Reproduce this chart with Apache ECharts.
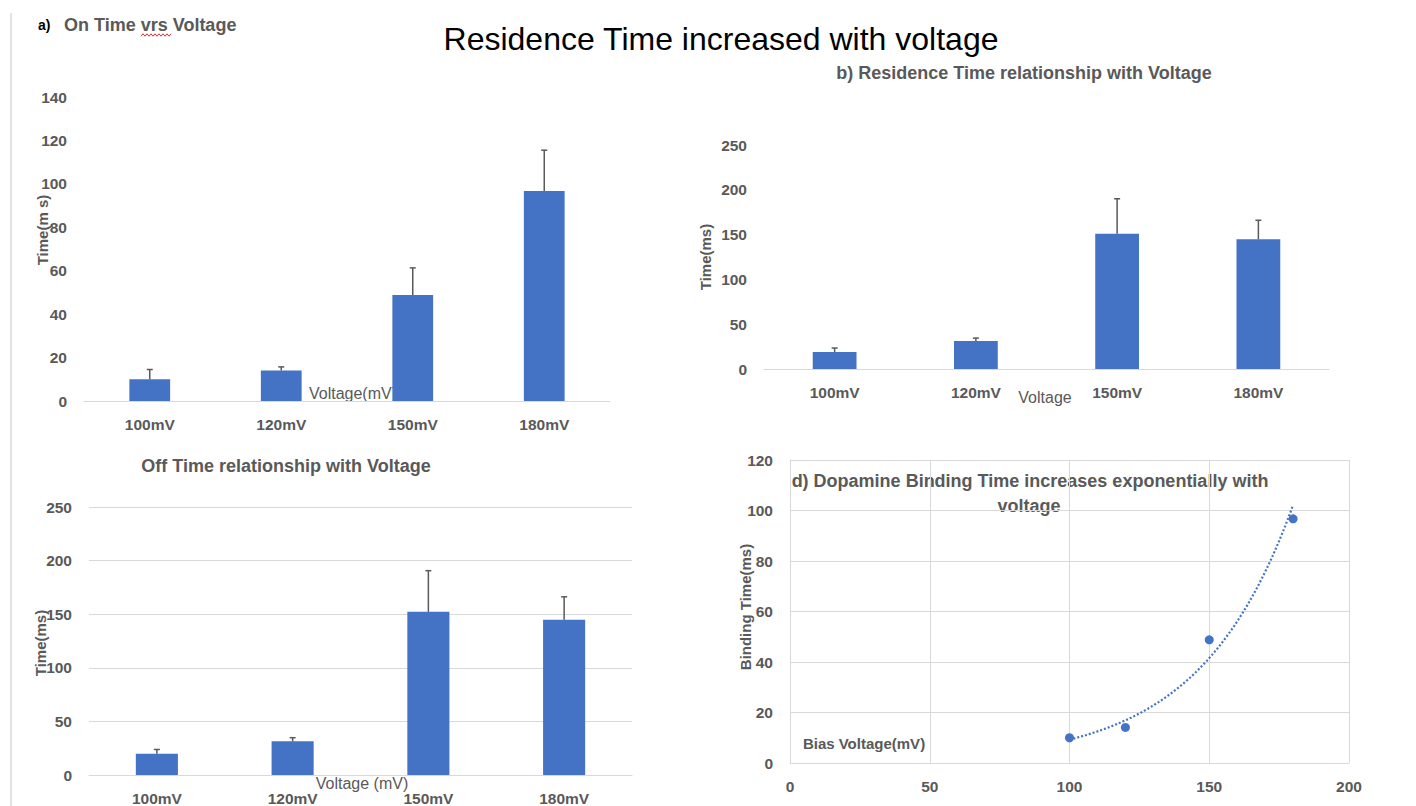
<!DOCTYPE html>
<html>
<head>
<meta charset="utf-8">
<script src="https://cdn.jsdelivr.net/npm/echarts@6/dist/echarts.min.js"></script>
<style>
html,body{margin:0;padding:0;background:#fff;}
#chart{width:1416px;height:806px;}
</style>
</head>
<body>
<div id="chart"></div>
<script>
// ---- data ----
const categories = ['100mV', '120mV', '150mV', '180mV'];
const onTimeMean = [10, 14.1, 48.8, 96.7];
const onTimeErr = [4.5, 1.6, 12.5, 18.8];
const residenceMean = [19, 31.2, 151, 144.8];
const residenceErr = [4.4, 3.3, 39, 21.2];
const offTimeMean = [19.8, 31.4, 152.2, 144.8];
const offTimeErr = [4, 3.4, 38.4, 21.4];
const biasVoltage = [100, 120, 150, 180];
const bindingTime = [10, 14.1, 48.8, 96.7];

// ---- style constants ----
const FONT = "'Liberation Sans', Arial, sans-serif";
const GRAY = '#595959';
const LINE = '#d9d9d9';
const BLUE = '#4472c4';

// exponential trendline (least squares on ln y), sampled from the data
function expFit(xs, ys) {
  const n = xs.length;
  const lx = xs, ly = ys.map(v => Math.log(v));
  const mx = lx.reduce((a, b) => a + b, 0) / n;
  const my = ly.reduce((a, b) => a + b, 0) / n;
  let sxx = 0, sxy = 0;
  for (let i = 0; i < n; i++) { sxx += (lx[i] - mx) ** 2; sxy += (lx[i] - mx) * (ly[i] - my); }
  const b = sxy / sxx, a = Math.exp(my - b * mx);
  const out = [];
  for (let x = xs[0]; x <= xs[n - 1] + 0.5; x += 1) out.push([x, a * Math.exp(b * x)]);
  return out;
}

function errRender(params, api) {
  const i = api.value(0), m = api.value(1), e = api.value(2);
  const p0 = api.coord([i, m]);
  const p1 = api.coord([i, m + e]);
  const st = { stroke: GRAY, lineWidth: 1.5 };
  return {
    type: 'group',
    children: [
      { type: 'line', shape: { x1: p0[0], y1: p0[1], x2: p1[0], y2: p1[1] }, style: st },
      { type: 'line', shape: { x1: p1[0] - 3, y1: p1[1], x2: p1[0] + 3, y2: p1[1] }, style: st }
    ]
  };
}

const axisLabelStyle = { color: GRAY, fontFamily: FONT, fontWeight: 'bold', fontSize: 15.5 };

function catAxis(gridIndex) {
  return {
    type: 'category', gridIndex, data: categories,
    axisLine: { lineStyle: { color: LINE, width: 1 } },
    axisTick: { show: false },
    axisLabel: Object.assign({ margin: 15 }, axisLabelStyle),
    splitLine: { show: false }
  };
}
function valAxis(gridIndex, max, interval, grid) {
  return {
    type: 'value', gridIndex, min: 0, max, interval,
    axisLine: { show: false }, axisTick: { show: false },
    axisLabel: Object.assign({ margin: 17 }, axisLabelStyle),
    splitLine: { show: grid, lineStyle: { color: LINE, width: 1 } }
  };
}
function barSeries(idx, data) {
  return {
    type: 'bar', xAxisIndex: idx, yAxisIndex: idx, data,
    barWidth: '31%', itemStyle: { color: BLUE }, animation: false
  };
}
function errSeries(idx, mean, err) {
  return {
    type: 'custom', xAxisIndex: idx, yAxisIndex: idx, z: 5,
    data: mean.map((m, i) => [i, m, err[i]]),
    renderItem: errRender, animation: false
  };
}

function txt(text, x, y, size, opts) {
  return Object.assign({
    type: 'text', x, y, silent: true,
    style: Object.assign({
      text, fill: GRAY, fontFamily: FONT, fontSize: size, fontWeight: 'bold',
      textAlign: 'center', textVerticalAlign: 'middle'
    }, (opts && opts.style) || {})
  }, (opts && opts.el) || {});
}

// squiggle under "vrs"
const squiggle = [];
for (let k = 0; k <= 15; k++) squiggle.push([141 + k * 2, 35 + (k % 2 ? -1.2 : 1.2)]);

const option = {
  backgroundColor: '#fff',
  animation: false,
  grid: [
    { left: 84, top: 97, width: 526, height: 304 },
    { left: 764, top: 145, width: 565, height: 224 },
    { left: 89, top: 507, width: 543, height: 273 },
    { left: 790, top: 460, width: 559, height: 303 }
  ],
  xAxis: [
    catAxis(0), catAxis(1), catAxis(2),
    {
      type: 'value', gridIndex: 3, min: 0, max: 200, interval: 50,
      axisLine: { show: true, lineStyle: { color: LINE } }, axisTick: { show: false },
      axisLabel: Object.assign({ margin: 15 }, axisLabelStyle),
      splitLine: { show: true, lineStyle: { color: LINE } }
    }
  ],
  yAxis: [
    valAxis(0, 140, 20, false),
    valAxis(1, 250, 50, false),
    valAxis(2, 250, 50, true),
    Object.assign(valAxis(3, 120, 20, true), { axisLine: { show: true, lineStyle: { color: LINE } } })
  ],
  series: [
    barSeries(0, onTimeMean), errSeries(0, onTimeMean, onTimeErr),
    barSeries(1, residenceMean), errSeries(1, residenceMean, residenceErr),
    barSeries(2, offTimeMean), errSeries(2, offTimeMean, offTimeErr),
    {
      type: 'line', xAxisIndex: 3, yAxisIndex: 3, data: expFit(biasVoltage, bindingTime),
      showSymbol: false, symbol: 'none', smooth: false,
      lineStyle: { color: BLUE, width: 2.2, type: [2, 2] }, z: 3
    },
    {
      type: 'scatter', xAxisIndex: 3, yAxisIndex: 3,
      data: biasVoltage.map((v, i) => [v, bindingTime[i]]),
      symbolSize: 9, itemStyle: { color: BLUE, opacity: 1 }, z: 4
    }
  ],
  graphic: [
    { type: 'line', silent: true, shape: { x1: 11, y1: 13, x2: 11, y2: 806 }, style: { stroke: LINE, lineWidth: 1.5 } },
    txt('Residence Time increased with voltage', 721, 39, 32, { style: { fill: '#000', fontWeight: 'normal' } }),
    txt('a)', 38, 25, 14, { style: { fill: '#000', textAlign: 'left' } }),
    txt('On Time vrs Voltage', 64, 25, 18, { style: { textAlign: 'left' } }),
    { type: 'polyline', silent: true, shape: { points: squiggle }, style: { stroke: '#e03030', lineWidth: 1, fill: null } },
    txt('b) Residence Time relationship with Voltage', 1024, 73, 18),
    txt('Off Time relationship with Voltage', 286, 466, 18),
    txt('d) Dopamine Binding Time increases exponentially with', 1030, 481, 18),
    txt('voltage', 1029, 506, 18),
    txt('Time(m s)', 42, 230, 15, { el: { rotation: Math.PI / 2 } }),
    txt('Time(ms)', 705, 257, 15, { el: { rotation: Math.PI / 2 } }),
    txt('Time(ms)', 40, 643, 15, { el: { rotation: Math.PI / 2 } }),
    txt('Binding Time(ms)', 745, 607, 15, { el: { rotation: Math.PI / 2 } }),
    txt('Voltage(mV)', 353, 393, 16, { style: { fontWeight: 'normal' } }),
    txt('Voltage', 1045, 397, 16, { style: { fontWeight: 'normal' } }),
    txt('Voltage (mV)', 362, 783, 16, { style: { fontWeight: 'normal' } }),
    txt('Bias Voltage(mV)', 864, 743, 15)
  ]
};

const chart = echarts.init(document.getElementById('chart'), null, { renderer: 'svg', width: 1416, height: 806 });
chart.setOption(option);
</script>
</body>
</html>
